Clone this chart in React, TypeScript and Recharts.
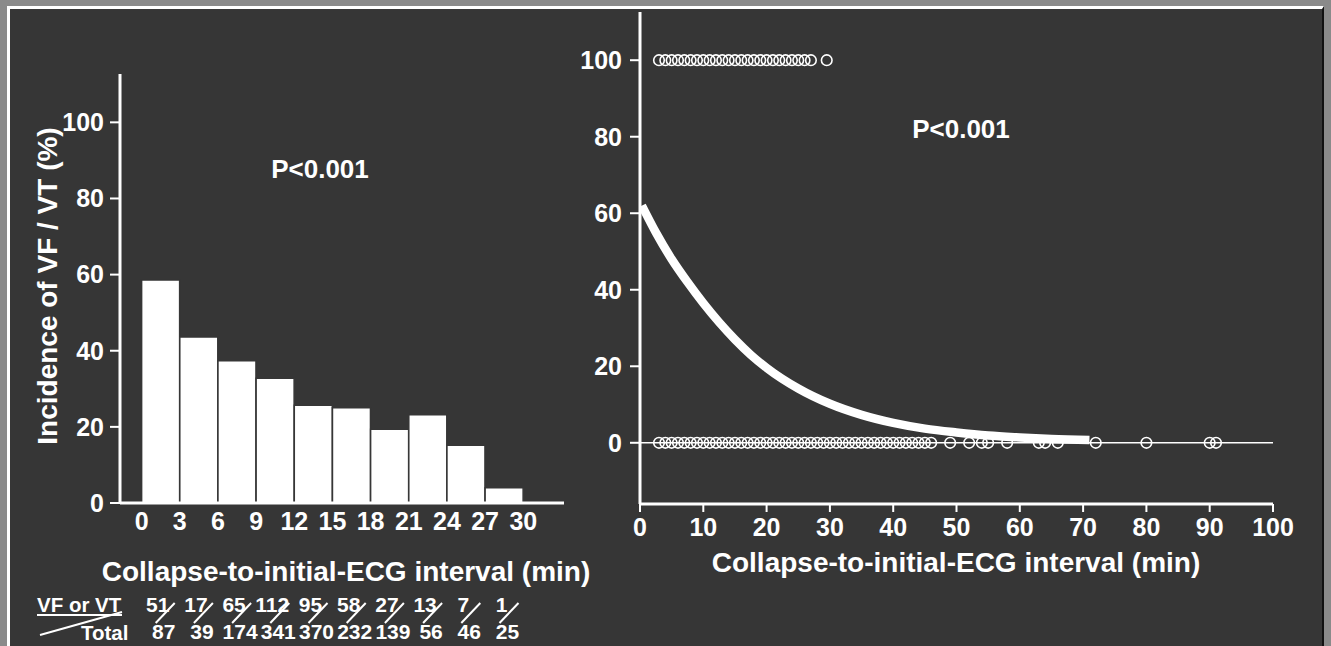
import React from 'react';
import { ComposedChart, Bar, XAxis, YAxis, Scatter, Line, ReferenceLine } from 'recharts';

// ---- data ----
const binMids = [1.5, 4.5, 7.5, 10.5, 13.5, 16.5, 19.5, 22.5, 25.5, 28.5];
const incidence = [58.6, 43.6, 37.4, 32.8, 25.7, 25.0, 19.4, 23.2, 15.2, 4.0];
const vfCounts = [51, 17, 65, 112, 95, 58, 27, 13, 7, 1];
const totals = [87, 39, 174, 341, 370, 232, 139, 56, 46, 25];
const leftXTicks = [0, 3, 6, 9, 12, 15, 18, 21, 24, 27, 30];
const yTicks = [0, 20, 40, 60, 80, 100];
const rightXTicks = [0, 10, 20, 30, 40, 50, 60, 70, 80, 90, 100];

// minutes of patients with VF/VT (plotted at 100) and without (plotted at 0)
const vfMinutes = [3, 4, 5, 6, 7, 8, 9, 10, 11, 12, 13, 14, 15, 16, 17, 18, 19, 20, 21, 22, 23, 24, 25, 26, 27, 29.5];
const nonVfMinutes = [3, 4, 5, 6, 7, 8, 9, 10, 11, 12, 13, 14, 15, 16, 17, 18, 19, 20, 21, 22, 23, 24, 25, 26, 27, 28, 29, 30, 31, 32, 33, 34, 35, 36, 37, 38, 39, 40, 41, 42, 43, 44, 45, 46, 49, 52, 54, 55, 58, 63, 64, 66, 72, 80, 90, 91];

// fitted curve
const curveX = [0.3, 2.5, 5, 7.5, 10, 12.5, 15, 17.5, 20, 25, 30, 35, 40, 45, 50, 55, 60, 65, 71];
const curveY = [62, 55, 48, 42, 36.5, 31.5, 27, 23, 19.6, 14.2, 10.2, 7.3, 5.2, 3.7, 2.7, 1.9, 1.4, 1.0, 0.7];

const barData = binMids.map((x, i) => ({ x, v: incidence[i] }));
const vfData = vfMinutes.map((x) => ({ x, y: 100 }));
const nonVfData = nonVfMinutes.map((x) => ({ x, y: 0 }));
const curveData = curveX.map((x, i) => ({ x, y: curveY[i] }));

// ---- style ----
const FONT = "'Liberation Sans', Arial, Helvetica, sans-serif";
const BG = '#363636';
const WHITE = '#ffffff';
const tickStyle = { fill: WHITE, fontSize: 25, fontWeight: 700, fontFamily: FONT };

const Circle = (props: any) => {
  const { cx, cy } = props;
  if (cx == null || cy == null) return <g />;
  return <circle cx={cx} cy={cy} r={5.3} fill="none" stroke={WHITE} strokeWidth={1.6} />;
};

// table column layout (pixel centers of the histogram bins)
const binLeftPx = 141.6;
const binWidthPx = 38.2;

export default function App() {
  return (
    <div
      style={{
        position: 'absolute',
        left: 0,
        top: 0,
        width: 1331,
        height: 646,
        background: '#8a8a8a',
        overflow: 'hidden',
        fontFamily: FONT,
      }}
    >
      <div
        style={{
          position: 'absolute',
          left: 7,
          top: 6,
          width: 1317,
          height: 700,
          background: BG,
          borderLeft: '3px solid #fff',
          borderTop: '3px solid #fff',
          borderRight: '2px solid #111',
          boxSizing: 'border-box',
        }}
      />

      {/* Left: histogram */}
      <div style={{ position: 'absolute', left: 0, top: 0 }}>
        <ComposedChart
          width={600}
          height={646}
          data={barData}
          margin={{ top: 74, right: 36, left: 80, bottom: 113 }}
          style={{ fontFamily: FONT }}
        >
          <XAxis
            type="number"
            dataKey="x"
            domain={[-1.7, 33.2]}
            allowDataOverflow
            ticks={leftXTicks}
            interval={0}
            tickLine={false}
            tickSize={0}
            tickMargin={9}
            height={30}
            axisLine={{ stroke: WHITE, strokeWidth: 3 }}
            tick={tickStyle}
          />
          <YAxis
            type="number"
            domain={[0, 112.7]}
            allowDataOverflow
            ticks={yTicks}
            interval={0}
            width={40}
            tickSize={10}
            tickMargin={6}
            tickLine={{ stroke: WHITE, strokeWidth: 2 }}
            axisLine={{ stroke: WHITE, strokeWidth: 3 }}
            tick={tickStyle}
          />
          <Bar dataKey="v" fill={WHITE} stroke={BG} strokeWidth={1.5} barSize={38} isAnimationActive={false} />
        </ComposedChart>
      </div>

      {/* Right: scatter + fitted curve */}
      <div style={{ position: 'absolute', left: 0, top: 0 }}>
        <ComposedChart
          width={1331}
          height={646}
          margin={{ top: 12, right: 58, left: 600, bottom: 112 }}
          style={{ fontFamily: FONT }}
        >
          <XAxis
            type="number"
            dataKey="x"
            domain={[0, 100]}
            allowDataOverflow
            ticks={rightXTicks}
            interval={0}
            tickSize={8}
            tickMargin={6}
            height={30}
            tickLine={{ stroke: WHITE, strokeWidth: 2 }}
            axisLine={{ stroke: WHITE, strokeWidth: 3 }}
            tick={tickStyle}
          />
          <YAxis
            type="number"
            dataKey="y"
            domain={[-16, 112.6]}
            allowDataOverflow
            ticks={yTicks}
            interval={0}
            width={40}
            tickSize={10}
            tickMargin={8}
            tickLine={{ stroke: WHITE, strokeWidth: 2 }}
            axisLine={{ stroke: WHITE, strokeWidth: 3 }}
            tick={tickStyle}
          />
          <ReferenceLine y={0} stroke={WHITE} strokeWidth={1.5} />
          <Scatter data={nonVfData} dataKey="y" shape={Circle} isAnimationActive={false} />
          <Scatter data={vfData} dataKey="y" shape={Circle} isAnimationActive={false} />
          <Line
            data={curveData}
            dataKey="y"
            type="monotone"
            stroke={WHITE}
            strokeWidth={8.5}
            dot={false}
            activeDot={false}
            isAnimationActive={false}
          />
        </ComposedChart>
      </div>

      {/* Text annotations */}
      <svg
        width={1331}
        height={646}
        style={{ position: 'absolute', left: 0, top: 0, fontFamily: FONT, fontWeight: 700 }}
      >
        <text
          x={57}
          y={286}
          transform="rotate(-90 57 286)"
          textAnchor="middle"
          fill={WHITE}
          fontSize={28}
        >
          Incidence of VF / VT (%)
        </text>
        <text x={320} y={178} textAnchor="middle" fill={WHITE} fontSize={26}>
          P&lt;0.001
        </text>
        <text x={961} y={138} textAnchor="middle" fill={WHITE} fontSize={26}>
          P&lt;0.001
        </text>
        <text x={346} y={581} textAnchor="middle" fill={WHITE} fontSize={28}>
          Collapse-to-initial-ECG interval (min)
        </text>
        <text x={956} y={572} textAnchor="middle" fill={WHITE} fontSize={28}>
          Collapse-to-initial-ECG interval (min)
        </text>

        {/* Table */}
        <text x={37} y={612} fill={WHITE} fontSize={20.5}>
          VF or VT
        </text>
        <line x1={37} y1={615} x2={122} y2={615} stroke={WHITE} strokeWidth={2} />
        <line x1={40} y1={635} x2={122} y2={612} stroke={WHITE} strokeWidth={2} />
        <text x={81} y={640} fill={WHITE} fontSize={20.5}>
          Total
        </text>
        {vfCounts.map((n, i) => {
          const c = binLeftPx + (i + 0.5) * binWidthPx;
          return (
            <g key={i}>
              <text x={c - 3} y={611.5} textAnchor="middle" fill={WHITE} fontSize={21}>
                {n}
              </text>
              <line x1={c - 5} y1={623} x2={c + 14} y2={603} stroke={WHITE} strokeWidth={2} />
              <text x={c + 3} y={638.5} textAnchor="middle" fill={WHITE} fontSize={21}>
                {totals[i]}
              </text>
            </g>
          );
        })}
      </svg>
    </div>
  );
}
